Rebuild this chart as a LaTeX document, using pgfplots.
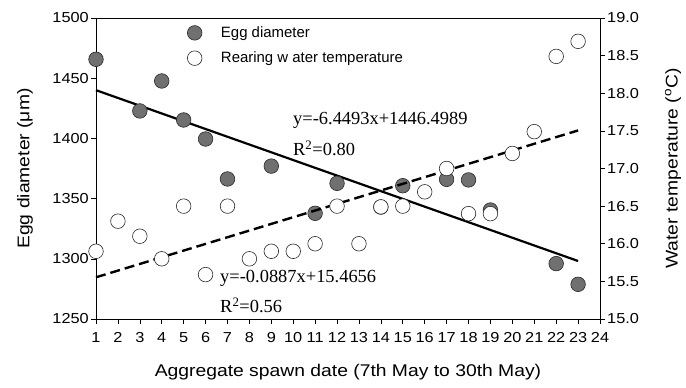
\documentclass[border=0pt]{standalone}
\usepackage{pgfplots}
\pgfplotsset{compat=1.18}
\usepackage{fontspec}
\setmainfont{Liberation Sans}
\newfontfamily\tickf[FakeStretch=1.13]{Liberation Sans}
\newfontfamily\labf[FakeStretch=1.14]{Liberation Sans}
\newfontfamily\timesf{Liberation Serif}
\newcommand{\tf}{\tickf\fontsize{14.5}{16}\selectfont}
\definecolor{eggfill}{RGB}{112,112,112}
\definecolor{edge}{RGB}{40,40,40}
\pgfplotstableread{
x y
1 1465.7
3 1422.8
4 1447.7
5 1415.3
6 1399.5
7 1366.3
9 1377
11 1337.8
12 1362.7
14 1343
15 1360.7
17 1366
18 1365.5
19 1340.5
22 1296
23 1278.8
}\eggdata
\pgfplotstableread{
x t
1 15.90
2 16.30
3 16.10
4 15.80
5 16.50
6 15.59
7 16.50
8 15.80
9 15.90
10 15.90
11 16.00
12 16.50
13 16.00
14 16.49
15 16.50
16 16.69
17 17.00
18 16.40
19 16.40
20 17.20
21 17.49
22 18.49
23 18.69
}\tempdata
\begin{document}
\begin{tikzpicture}
\pgfplotsset{
  every axis/.append style={
    scale only axis, width=504bp, height=301bp, at={(0,0)}, anchor=south west,
    xmin=1, xmax=24, tick align=outside, major tick length=5bp,
    tick style={black, line width=0.6pt},
    label style={font=\labf\fontsize{17}{20}\selectfont},
    /pgf/number format/assume math mode=true,
    /pgf/number format/1000 sep={},
    clip=false,
  }
}
\begin{axis}[
  xtick={1,...,24}, xtick pos=bottom, ytick pos=left,
  ymin=1250, ymax=1500, ytick={1250,1300,...,1500},
  xticklabels={{\tf 1},{\tf 2},{\tf 3},{\tf 4},{\tf 5},{\tf 6},{\tf 7},{\tf 8},{\tf 9},{\tf 10},{\tf 11},{\tf 12},{\tf 13},{\tf 14},{\tf 15},{\tf 16},{\tf 17},{\tf 18},{\tf 19},{\tf 20},{\tf 21},{\tf 22},{\tf 23},{\tf 24}},
  yticklabels={{\tf 1250},{\tf 1300},{\tf 1350},{\tf 1400},{\tf 1450},{\tf 1500}},
  xlabel={Aggregate spawn date (7th May to 30th May)},
  ylabel={Egg diameter (μm)},
  xlabel style={at={(axis description cs:0.5,-0.176)}, anchor=center},
  ylabel style={at={(axis description cs:-0.141,0.5)}, anchor=center},
  xticklabel style={inner xsep=0pt, yshift=-5bp},
  yticklabel style={inner xsep=2bp},
]
\addplot[black, line width=2.2bp] coordinates {(1,1440.05) (23,1298.16)};
\addplot[only marks, mark=*, mark size=7.3bp, mark options={fill=eggfill, draw=edge, line width=0.6pt}] table[x=x,y=y] {\eggdata};
\node[font=\timesf\fontsize{18.5}{21}\selectfont, anchor=west, inner sep=0pt] at (axis cs:9.99,1415.3) {y=-6.4493x+1446.4989};
\node[font=\timesf\fontsize{18.5}{21}\selectfont, anchor=west, inner sep=0pt] at (axis cs:9.99,1392) {R\textsuperscript{2}=0.80};
\node[font=\timesf\fontsize{18.5}{21}\selectfont, anchor=west, inner sep=0pt] at (axis cs:6.66,1284) {y=-0.0887x+15.4656};
\node[font=\timesf\fontsize{18.5}{21}\selectfont, anchor=west, inner sep=0pt] at (axis cs:6.66,1261.6) {R\textsuperscript{2}=0.56};
\end{axis}
\begin{axis}[
  hide x axis, axis y line*=right, ytick pos=right,
  ymin=15, ymax=19, ytick={15,15.5,...,19},
  yticklabels={{\tf 15.0},{\tf 15.5},{\tf 16.0},{\tf 16.5},{\tf 17.0},{\tf 17.5},{\tf 18.0},{\tf 18.5},{\tf 19.0}},
  yticklabel style={inner xsep=2bp},
  ylabel={Water temperature (\textsuperscript{o}C)},
  ylabel style={at={(axis description cs:1.145,0.5)}, anchor=center},
  legend style={draw=none, fill=none, at={(0.175,0.985)}, anchor=north west,
    font=\fontsize{15}{17}\selectfont, row sep=9bp, inner ysep=2bp},
  legend cell align=left,
]
\addlegendimage{only marks, mark=*, mark size=7.3bp, mark options={fill=eggfill, draw=edge, line width=0.6pt}}
\addlegendentry{\hspace*{17bp}Egg diameter}
\addplot[black, line width=2.4bp, dash pattern=on 10bp off 5bp, forget plot] coordinates {(1,15.5543) (23,17.5057)};
\addplot[only marks, mark=*, mark size=7.3bp, mark options={fill=white, draw=edge, line width=0.6pt}] table[x=x,y=t] {\tempdata};
\addlegendentry{\hspace*{17bp}Rearing w ater temperature}
\end{axis}
\path[use as bounding box] (-96bp,-69bp) rectangle (590bp,319bp);
\end{tikzpicture}
\end{document}
